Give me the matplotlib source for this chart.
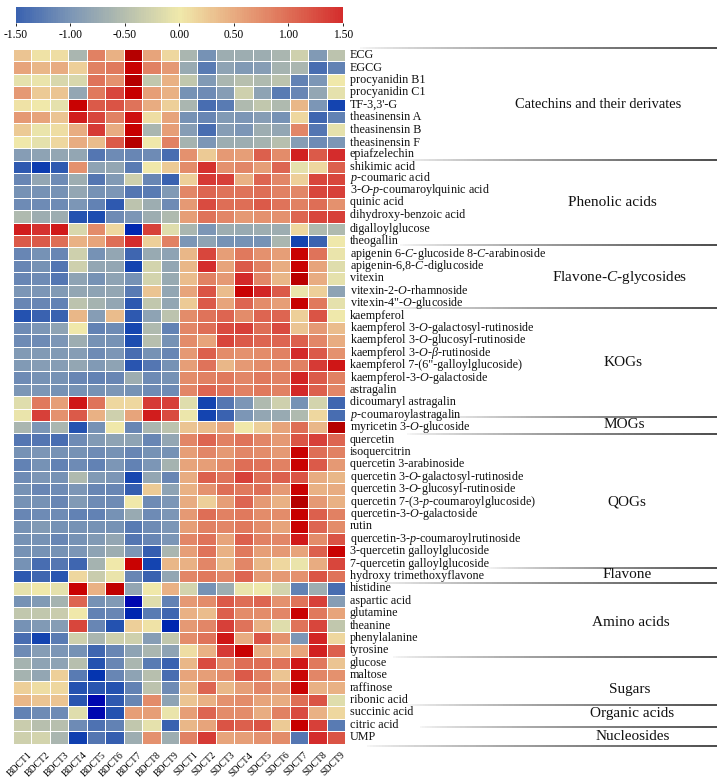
import numpy as np
import matplotlib
matplotlib.use("Agg")
import matplotlib.pyplot as plt
from matplotlib.collections import LineCollection
from matplotlib.colors import LinearSegmentedColormap, Normalize
from matplotlib.transforms import ScaledTranslation

plt.rcParams['font.family'] = ['Liberation Serif', 'DejaVu Serif']
plt.rcParams['mathtext.fontset'] = 'custom'
plt.rcParams['mathtext.rm'] = 'Liberation Serif'
plt.rcParams['mathtext.it'] = 'Liberation Serif:italic'
plt.rcParams['mathtext.default'] = 'regular'

samples = [f"BDCT{i}" for i in range(1, 10)] + [f"SDCT{i}" for i in range(1, 10)]
cbar_ticks = [-1.5, -1.0, -0.5, 0.0, 0.5, 1.0, 1.5]

catechins_labels = ["ECG", "EGCG", "procyanidin B1", "procyanidin C1", "TF-3,3'-G", "theasinensin A",
                    "theasinensin B", "theasinensin F", "epiafzelechin"]
catechins = [
    [0.3, 0.05, 0.1, -0.6, 0.85, 0.45, 2.6, 0.55, 0.15, -0.6, -1.05, -0.7, -0.7, -0.7, -0.6, -0.3, -0.95, -0.45],
    [0.55, 0.4, 0.5, 0.2, 0.85, 0.9, 2.2, 0.85, 0.65, -0.75, -1.25, -0.85, -0.95, -0.9, -0.65, -0.6, -1.4, -1.2],
    [-0.1, -0.05, -0.2, -0.2, 0.95, 0.7, 2.6, -0.4, 0.45, -0.4, -0.95, -0.6, -0.5, -0.55, -0.45, -1.2, -1.0, 0.0],
    [0.65, 0.25, 0.3, -0.8, 0.9, 1.3, 2.3, 0.6, 0.45, -1.05, -1.1, -0.9, -0.3, -0.85, -1.25, -1.15, -0.8, -0.1],
    [0.05, 0.0, -0.1, 2.2, 1.15, 1.2, 0.95, 0.5, 0.2, -0.6, -1.4, -1.25, -0.55, -0.4, -0.55, 0.4, -1.0, -1.9],
    [0.65, 0.55, 0.3, 1.7, 1.3, 0.85, 1.9, 0.1, 0.55, -1.05, -1.15, -0.95, -1.0, -0.9, -1.05, 0.15, -1.45, -1.2],
    [0.25, -0.05, 0.1, 0.5, 1.4, 0.5, 2.3, -0.6, 0.6, -0.9, -1.4, -0.9, -1.0, -0.7, -0.8, 0.8, -1.3, -0.1],
    [0.0, -0.1, 0.15, 0.5, 0.35, 1.15, 2.6, 0.0, 0.85, -0.65, -1.0, -0.7, -0.7, -0.65, -0.5, -0.9, -1.1, -1.0],
    [-0.9, -0.85, -0.8, -0.8, -1.3, -1.1, -1.15, -1.1, -1.4, 0.7, 0.25, 0.65, 0.6, 1.1, 0.75, 1.65, 1.15, 1.5],
]

phenolic_labels = ["shikimic acid", "$\\mathit{p}$-coumaric acid", "3-$\\mathit{O}$-$\\mathit{p}$-coumaroylquinic acid",
                   "quinic acid", "dihydroxy-benzoic acid", "digalloylglucose", "theogallin"]
phenolic = [
    [-1.6, -2.0, -1.6, 0.7, -0.85, -0.8, -1.25, 0.0, 0.25, 0.75, 1.45, 0.7, 0.8, 0.6, 1.05, -0.1, 0.15, 1.1],
    [-1.15, -0.8, -1.1, -0.7, -1.3, -0.95, -0.3, -1.15, -1.5, 0.2, 1.4, 1.35, 0.45, 1.05, 0.8, 0.2, 1.3, 1.3],
    [-1.05, -1.05, -1.05, -0.8, -1.05, -1.0, -1.3, -1.25, -0.95, 0.8, 1.05, 0.95, 0.95, 1.0, 0.85, 0.8, 1.3, 1.35],
    [-1.1, -1.1, -1.1, -1.0, -1.2, -1.6, -0.45, -0.7, -1.1, 0.65, 1.25, 1.0, 1.0, 1.15, 0.95, 0.85, 1.0, 0.7],
    [-0.55, -0.7, -0.7, -1.7, -1.75, -1.1, -1.0, -0.7, -0.55, 0.6, 0.95, 0.8, 0.65, 0.7, 0.7, 1.05, 1.3, 1.35],
    [1.7, 1.45, 1.75, -0.2, 0.75, 0.15, -2.3, 1.35, -0.15, -0.6, -1.0, -0.7, -0.75, -0.7, -0.7, 0.15, -0.55, -0.55],
    [1.15, 1.15, 1.0, 0.45, 0.55, 1.0, 1.5, 0.2, 0.85, -1.0, -0.85, -1.05, -1.05, -1.05, -0.6, -1.9, -1.5, -0.02],
]

flavone_c_labels = ["apigenin 6-$\\mathit{C}$-glucoside 8-$\\mathit{C}$-arabinoside", "apigenin-6,8-$\\mathit{C}$-diglucoside",
                    "vitexin", "vitexin-2-$\\mathit{O}$-rhamnoside", 'vitexin-4"-$\\mathit{O}$-glucoside']
flavone_c = [
    [-1.15, -1.05, -1.15, -0.3, -1.05, -0.8, -1.45, -0.75, -0.85, 0.4, 1.3, 0.6, 0.9, 0.7, 0.6, 2.2, 0.95, -0.05],
    [-1.15, -1.05, -1.3, -0.3, -0.8, -0.8, -1.9, -0.25, -0.8, 0.4, 1.5, 0.55, 1.15, 0.85, 0.5, 2.2, 0.55, -0.15],
    [-1.15, -1.1, -1.3, -0.85, -1.05, -0.85, -1.05, -0.25, -0.75, 0.35, 0.85, 0.65, 1.55, 0.8, 0.4, 2.5, 0.5, -0.1],
    [-1.0, -1.0, -0.95, -0.8, -0.85, -0.8, -1.25, 0.3, -0.8, 0.55, 1.2, 0.35, 2.2, 1.6, 1.15, -0.05, 0.2, -0.85],
    [-1.15, -1.15, -1.2, -0.45, -0.65, -0.8, -1.6, -0.4, -0.8, 0.25, 1.15, 0.55, 1.05, 0.75, 0.6, 2.3, 0.9, -0.1],
]

kog_labels = ["kaempferol", "kaempferol 3-$\\mathit{O}$-galactosyl-rutinoside", "kaempferol 3-$\\mathit{O}$-glucosyl-rutinoside",
              "kaempferol 3-$\\mathit{O}$-$\\mathit{\\beta}$-rutinoside", 'kaempferol 7-(6"-galloylglucoside)',
              "kaempferol-3-$\\mathit{O}$-galactoside", "astragalin", "dicoumaryl astragalin", "$\\mathit{p}$-coumaroylastragalin"]
kog = [
    [-1.7, -1.5, -1.5, 0.4, -0.9, 0.35, -1.6, -0.85, -0.45, 0.75, 0.95, 1.05, 0.75, 1.05, 1.05, 0.2, 1.2, -0.02],
    [-1.1, -1.0, -0.85, 0.0, -1.2, -1.1, -1.85, -0.55, -1.2, 0.8, 1.0, 1.25, 1.35, 1.0, 1.25, 0.3, 0.65, 0.35],
    [-1.1, -1.1, -1.0, -0.7, -1.05, -1.05, -1.75, -0.5, -1.05, 0.75, 0.55, 1.3, 1.15, 1.05, 1.05, 1.1, 0.8, 0.5],
    [-0.95, -0.95, -0.95, -0.9, -1.1, -1.0, -1.4, -1.05, -1.15, 0.65, 1.1, 0.75, 0.7, 0.75, 0.85, 1.55, 1.15, 0.7],
    [-0.95, -0.9, -0.9, -0.8, -0.95, -0.85, -1.65, -1.3, -1.05, 0.6, 0.95, 0.4, 0.65, 0.75, 0.75, 0.85, 1.4, 1.8],
    [-1.1, -1.05, -1.05, -1.15, -1.2, -1.15, -0.7, -1.1, -1.05, 0.75, 0.85, 0.9, 0.8, 0.9, 0.85, 1.6, 1.15, 0.85],
    [-1.0, -1.0, -1.05, -1.05, -1.05, -1.0, -1.05, -1.1, -1.1, 0.8, 1.05, 0.95, 0.85, 0.9, 0.85, 1.55, 1.1, 0.8],
    [-0.15, 0.9, 0.6, 1.8, 0.95, 0.15, 0.15, 1.4, 1.35, -0.15, -1.9, -1.3, -1.0, -0.55, -0.3, -1.05, -0.25, -1.45],
    [-0.05, 1.35, 0.7, 1.15, 0.45, -0.3, 0.55, 1.7, 1.25, -0.03, -1.9, -1.5, -1.0, -0.8, -0.75, -0.55, 0.15, -1.4],
]

mog_labels = ["myricetin 3-$\\mathit{O}$-glucoside"]
mog = [
    [-0.6, -1.0, -0.6, -1.7, -1.05, 0.0, -1.15, -0.6, -0.45, 0.3, 0.35, 0.55, 0.0, 0.2, 0.55, 1.0, 0.4, 2.6],
]

qog_labels = ["quercetin", "isoquercitrin", "quercetin 3-arabinoside", "quercetin 3-$\\mathit{O}$-galactosyl-rutinoside",
              "quercetin 3-$\\mathit{O}$-glucosyl-rutinoside", "quercetin 7-(3-$\\mathit{p}$-coumaroylglucoside)",
              "quercetin-3-$\\mathit{O}$-galactoside", "rutin", "quercetin-3-$\\mathit{p}$-coumaroylrutinoside",
              "3-quercetin galloylglucoside", "7-quercetin galloylglucoside"]
qog = [
    [-1.3, -1.3, -1.4, -1.1, -0.95, -0.85, -0.85, -1.15, -0.8, 0.8, 1.05, 0.85, 0.95, 0.8, 0.65, 1.2, 1.35, 1.05],
    [-1.05, -1.0, -1.05, -1.05, -1.1, -1.05, -1.15, -1.05, -1.05, 0.6, 0.8, 0.65, 0.8, 0.75, 0.65, 2.2, 1.0, 0.85],
    [-1.2, -1.05, -1.2, -1.1, -1.2, -1.0, -1.2, -1.0, -0.65, 0.55, 0.6, 0.75, 1.0, 0.95, 0.85, 2.2, 1.15, 0.65],
    [-1.1, -1.0, -1.05, -0.55, -0.95, -1.0, -1.85, -0.8, -1.15, 0.5, 1.1, 0.95, 1.35, 1.0, 1.1, 1.2, 0.5, 0.4],
    [-1.05, -1.15, -1.1, -1.0, -1.15, -1.15, -1.55, 0.25, -0.85, 0.45, 0.7, 1.0, 0.9, 1.0, 0.65, 2.2, 0.45, 0.5],
    [-1.05, -1.05, -1.15, -0.95, -1.1, -1.1, 0.0, -1.1, -1.0, 0.5, 0.2, 0.6, 1.05, 0.65, 0.45, 2.6, 0.65, 0.45],
    [-1.15, -1.1, -1.1, -1.2, -1.2, -1.05, -0.75, -1.1, -1.0, 0.65, 1.0, 0.85, 0.9, 0.75, 0.75, 2.3, 1.1, 0.85],
    [-1.05, -0.95, -1.05, -1.05, -1.05, -1.05, -1.25, -1.1, -1.0, 0.6, 0.85, 0.8, 0.9, 0.75, 0.55, 2.2, 1.05, 0.75],
    [-1.05, -1.05, -1.15, -1.05, -0.95, -0.8, -1.3, -1.15, -1.0, 0.8, 0.95, 0.55, 1.1, 0.85, 0.8, 1.75, 0.75, 1.2],
    [-1.05, -1.05, -1.05, -1.0, -0.85, -0.7, -1.0, -1.55, -0.6, 0.6, 0.95, 0.45, 0.9, 0.6, 0.65, 0.55, 1.1, 2.2],
    [-1.05, -1.4, -1.3, -1.45, -0.65, 0.0, 2.2, -1.9, 0.4, 0.45, 0.8, 0.35, 0.8, 0.4, 0.15, -0.05, 0.5, 1.3],
]

flavone_labels = ["hydroxy trimethoxyflavone"]
flavone = [
    [-1.6, -1.45, -1.65, 0.15, -0.35, -0.05, -1.15, -1.5, -0.8, 0.8, 0.9, 0.8, 1.05, 0.65, 0.65, 0.7, 1.2, 0.95],
]

amino_labels = ["histidine", "aspartic acid", "glutamine", "theanine", "phenylalanine", "tyrosine"]
amino = [
    [-0.1, 0.0, -0.1, 2.2, 0.45, 2.4, -0.8, 0.02, 0.45, -0.25, -1.05, -0.7, -0.05, -0.02, -0.25, -1.2, -0.7, -1.4],
    [-1.05, -0.95, -0.65, 1.05, -1.05, -0.95, -2.7, -0.15, -1.2, 0.65, 0.75, 1.15, 1.0, 1.05, 0.7, 0.95, 1.35, -0.9],
    [-0.4, -0.4, -0.35, 0.0, -1.2, -1.15, -2.3, -1.25, -1.45, 0.45, 0.35, 1.1, 0.75, 0.75, 0.8, 2.2, 0.9, 0.55],
    [-1.05, -0.95, -0.9, 1.3, -1.15, -1.7, 0.2, 0.05, -2.3, 0.65, 0.8, 1.35, 0.95, 0.45, -0.15, 0.95, 1.3, -0.4],
    [-1.4, -1.9, -1.25, -0.3, -0.6, -0.3, -0.3, -0.9, -0.4, 0.75, 0.95, 1.8, 0.5, 1.2, 0.7, -1.0, 1.6, 0.15],
    [-1.1, -0.9, -1.0, -1.05, -1.45, -1.15, -0.85, -0.6, -0.85, 0.1, 0.45, 1.4, 2.2, 0.5, 0.35, 0.55, 1.65, 1.1],
]

sugar_labels = ["glucose", "maltose", "raffinose", "ribonic acid"]
sugars = [
    [-0.65, -0.85, -0.85, -0.5, -1.7, -1.15, -0.6, -1.25, -1.5, 0.4, 1.25, 0.75, 1.0, 1.0, 0.95, 1.8, 0.9, 0.3],
    [-0.65, -0.8, 0.2, -1.25, -2.1, -1.15, -0.85, -0.5, -1.4, 0.55, 0.6, 0.75, 1.15, 0.85, 0.3, 2.1, 0.8, 0.7],
    [0.2, 0.1, 0.15, -1.7, -1.65, -1.7, -1.2, -0.45, -1.1, 0.4, 1.05, 0.4, 0.6, 0.8, 0.65, 2.2, 0.45, 0.45],
    [0.4, 0.3, 0.3, -1.65, -2.7, -1.6, -1.15, 0.75, -0.85, 0.3, 0.45, 0.7, 0.75, 0.55, 0.5, 1.0, 1.2, -0.15],
]

organic_labels = ["succinic acid", "citric acid"]
organic = [
    [-1.2, -1.1, -1.1, -0.15, -2.7, -1.7, 0.6, 0.6, -0.05, 0.6, 1.05, 0.75, 0.75, 0.5, 0.85, 1.25, 0.45, 0.15],
    [-0.35, -0.5, -0.5, -1.1, -1.35, -1.2, -0.4, -0.1, -1.5, 0.4, 0.55, 1.2, 1.1, 1.2, 0.25, 2.3, 1.35, -1.25],
]

nucleoside_labels = ["UMP"]
nucleosides = [
    [-0.3, -0.25, -0.6, -1.95, -1.3, -1.55, -0.7, 0.7, -0.7, 0.85, 1.4, 0.55, 0.6, 0.7, 0.75, -1.3, 1.5, 1.2],
]

group_names = ["Catechins and their derivates", "Phenolic acids", "Flavone-$\\mathit{C}$-glycosides", "KOGs", "MOGs",
               "QOGs", "Flavone", "Amino acids", "Sugars", "Organic acids", "Nucleosides"]

labels = (catechins_labels + phenolic_labels + flavone_c_labels + kog_labels + mog_labels + qog_labels
          + flavone_labels + amino_labels + sugar_labels + organic_labels + nucleoside_labels)
values = np.array(catechins + phenolic + flavone_c + kog + mog + qog + flavone + amino + sugars + organic + nucleosides)

# colour ramp goes past +-1.5 to the saturated cells of the heatmap
vlim = 2.8
nodes = [(-2.8, '#0000b0'), (-2.2, '#0030b0'), (-1.8, '#1a4ab0'), (-1.5, '#3a62b0'), (-1.0, '#7c96b6'),
         (-0.5, '#b6bfae'), (0.0, '#f0e9ab'), (0.5, '#e8ab80'), (1.0, '#de6e56'), (1.5, '#d42c2c'),
         (2.0, '#cc0808'), (2.3, '#c80000'), (2.8, '#a80000')]
cmap = LinearSegmentedColormap.from_list('heat', [((v + vlim) / (2 * vlim), c) for v, c in nodes])
norm = Normalize(-vlim, vlim)

W, H = 724, 780
fig = plt.figure(figsize=(W / 100, H / 100), dpi=100)


def px_axes(left, top, right, bottom):
    return fig.add_axes([left / W, 1 - bottom / H, (right - left) / W, (bottom - top) / H])


# colour bar
cax = px_axes(15.5, 7, 343, 22.5)
grad = np.linspace(-1.5, 1.5, 300)
cax.pcolormesh(grad, [0, 1], grad[:-1][None, :], cmap=cmap, norm=norm)
cax.set_xticks(cbar_ticks)
cax.set_xticklabels([f"{t:.2f}" for t in cbar_ticks], fontsize=8.3)
cax.set_yticks([])
cax.tick_params(axis='x', length=2.5, width=0.6, pad=2)
for s in cax.spines.values():
    s.set_visible(False)

# heatmap
ax = px_axes(13, 49, 345, 743.5)
ax.pcolormesh(values, cmap=cmap, norm=norm, edgecolors='white', linewidth=0.7)
ax.invert_yaxis()
ax.set_xticks(np.arange(len(samples)) + 0.5)
ax.set_xticklabels(samples, rotation=45, ha='right', va='top', rotation_mode='anchor', fontsize=7)
ax.tick_params(axis='x', length=0, pad=5)
shift = ScaledTranslation(5 / 100, 0, fig.dpi_scale_trans)
for t in ax.get_xticklabels():
    t.set_transform(t.get_transform() + shift)
ax.set_yticks([])
for s in ax.spines.values():
    s.set_visible(False)

# overlay in pixel coordinates for the row labels, group names and rules
over = fig.add_axes([0, 0, 1, 1], facecolor='none')
over.set_xlim(0, W)
over.set_ylim(H, 0)
over.axis('off')

row_h = (743.5 - 49) / len(labels)
# hand placed labels in the original sit slightly off their rows
label_nudge = {'$\\mathit{p}$-coumaric acid': -1, '3-$\\mathit{O}$-$\\mathit{p}$-coumaroylquinic acid': -1.5,
               'quinic acid': -2, 'dihydroxy-benzoic acid': -1.8, 'theasinensin F': 1}
for i, lab in enumerate(labels):
    y = 49 + (i + 0.5) * row_h + label_nudge.get(lab, 0)
    over.text(350, y, lab, fontsize=8.7, ha='left', va='center', color='#111111')

group_pos = [(598, 105), (612, 202), (620, 277), (623, 362), (624, 425), (627, 502), (627, 575),
             (631, 623), (630, 690), (632, 714), (633, 737)]
group_size = [10.4, 11, 11, 11, 11, 11, 11, 11, 11, 11, 11]
for name, (x, y), fs in zip(group_names, group_pos, group_size):
    over.text(x, y, name, fontsize=fs, ha='center', va='center', color='#111111')

rules = [(48.3, 360), (159.5, 400), (245, 400), (308, 390), (416.7, 440), (433.7, 407), (567.7, 487),
         (583.3, 373), (656.7, 393), (705, 407), (727.3, 420), (746, 367)]
for y, x0 in rules:
    xs = np.linspace(x0, 717, 120)
    segs = [[(xs[k], y), (xs[k + 1], y)] for k in range(len(xs) - 1)]
    shade = np.linspace(0, 1, len(segs))
    cols = [(0.1, 0.1, 0.1, min(1, 0.05 + 0.95 * t ** 0.8)) for t in shade]
    over.add_collection(LineCollection(segs, colors=cols, linewidths=1.1))

fig.savefig('out.png', dpi=100)
